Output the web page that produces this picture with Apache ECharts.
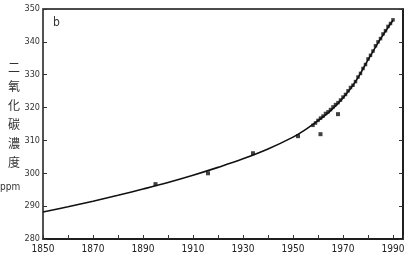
<!DOCTYPE html>
<html><head><meta charset="utf-8">
<script src="https://cdn.jsdelivr.net/npm/echarts@6/dist/echarts.min.js"></script>
<style>html,body{margin:0;padding:0;background:#fff}#c{width:419px;height:262px}</style>
</head><body><div id="c"></div>
<script>
// Smooth fitted curve (year, ppm)
const curveYears = [1850, 1860, 1870, 1880, 1890, 1900, 1910, 1920, 1930, 1940, 1950, 1955, 1960, 1965, 1970, 1975, 1980, 1985, 1990];
const curvePpm   = [288.2, 289.8, 291.5, 293.3, 295.2, 297.2, 299.4, 301.8, 304.4, 307.4, 311.0, 313.3, 316.0, 319.0, 322.9, 327.9, 334.5, 340.9, 346.6];
// Ice-core / early measurements
const coreYears = [1895, 1916, 1934, 1952, 1961, 1968];
const corePpm   = [296.7, 300.0, 306.1, 311.3, 311.9, 318.0];
// Direct atmospheric measurements
const obsYears = [1958,1959,1960,1961,1962,1963,1964,1965,1966,1967,1968,1969,1970,1971,1972,1973,1974,1975,1976,1977,1978,1979,1980,1981,1982,1983,1984,1985,1986,1987,1988,1989,1990];
const obsPpm   = [314.6,315.3,316.1,316.8,317.4,318.2,318.7,319.4,320.2,320.9,321.5,322.3,323.2,324.0,325.1,326.1,326.8,327.9,329.3,330.4,331.9,333.1,334.8,335.9,337.2,338.8,340.0,341.0,342.4,343.4,344.7,345.6,346.7];
const xTicks = [1850, 1870, 1890, 1910, 1930, 1950, 1970, 1990];
const yTicks = [280, 290, 300, 310, 320, 330, 340, 350];

const chart = echarts.init(document.getElementById('c'));
const fontFam = '"Liberation Sans Narrow","DejaVu Sans Condensed","Liberation Sans",sans-serif';
chart.setOption({
  animation: false,
  backgroundColor: '#fff',
  grid: {left: 43, right: 16, top: 9, bottom: 23, show: true, borderColor: '#111', borderWidth: 1.5},
  xAxis: {
    type: 'value', min: 1850, max: 1994, interval: 10,
    axisLine: {lineStyle: {color: '#111', width: 1.5}},
    axisTick: {inside: true, length: 4, lineStyle: {color: '#333'}},
    splitLine: {show: false},
    axisLabel: {
      color: '#222', fontSize: 10, fontFamily: fontFam, margin: 5,
      formatter: v => xTicks.indexOf(v) >= 0 ? String(v) : ''
    }
  },
  yAxis: [{
    type: 'value', min: yTicks[0], max: yTicks[yTicks.length - 1], interval: 10,
    axisLine: {show: true, lineStyle: {color: '#555', width: 1.5}},
    axisTick: {inside: true, length: 4, lineStyle: {color: '#333'}},
    splitLine: {show: false},
    axisLabel: {color: '#333', fontSize: 9, fontFamily: fontFam, margin: 3}
  }, {
    type: 'value', min: yTicks[0], max: yTicks[yTicks.length - 1], interval: 10, position: 'right',
    axisLine: {show: true, lineStyle: {color: '#111', width: 1.5}},
    axisTick: {inside: true, length: 4, lineStyle: {color: '#333'}},
    splitLine: {show: false},
    axisLabel: {show: false}
  }],
  graphic: [
    {type: 'text', left: 53, top: 17, style: {text: 'b', fontSize: 12, fill: '#333', fontFamily: fontFam}},
    {type: 'text', left: 8, top: 58, style: {text: '二\n氧\n化\n碳\n濃\n度', fontSize: 12, lineHeight: 19, fill: '#333', fontFamily: '"Noto Sans CJK JP",sans-serif'}},
    {type: 'text', left: 0, top: 182, style: {text: 'ppm', fontSize: 10, fill: '#333', fontFamily: fontFam}}
  ],
  series: [
    {type: 'line', smooth: 0.4, symbol: 'none', data: curveYears.map((y, i) => [y, curvePpm[i]]),
     lineStyle: {color: '#111', width: 1.6}, z: 2},
    {type: 'scatter', symbol: 'rect', symbolSize: 4, data: coreYears.map((y, i) => [y, corePpm[i]]),
     itemStyle: {color: '#111'}, z: 3},
    {type: 'scatter', symbol: 'rect', symbolSize: 3.5, data: obsYears.map((y, i) => [y, obsPpm[i]]),
     itemStyle: {color: '#111'}, z: 3}
  ]
});
</script></body></html>
